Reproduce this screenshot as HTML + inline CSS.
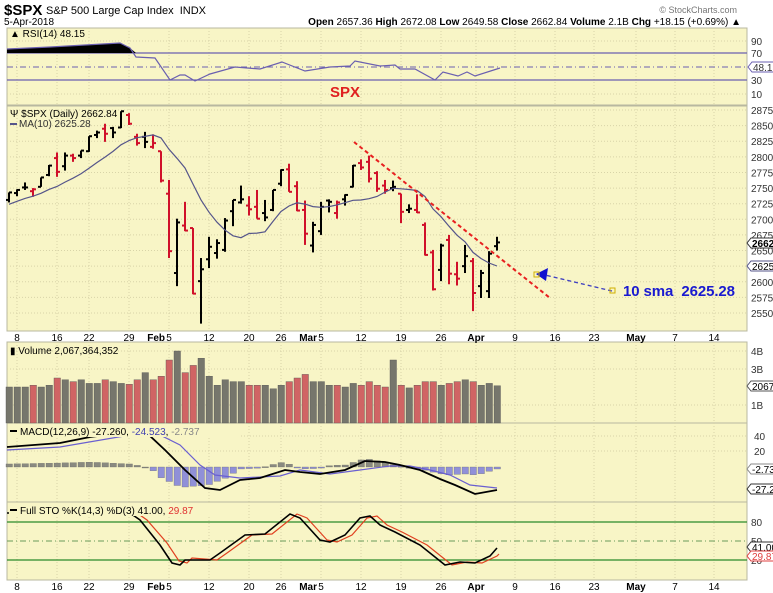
<!DOCTYPE html>
<html><head><meta charset="utf-8"><style>
body{margin:0;background:#fff;width:773px;height:593px;overflow:hidden;font-family:"Liberation Sans",sans-serif}
svg{display:block}
</style></head><body>
<svg id="c" width="773" height="593" xmlns="http://www.w3.org/2000/svg" font-family="Liberation Sans, sans-serif"></svg>
<script>
const S=document.getElementById('c');let h='';
const L=7,R=747,BG='#f8f5c6';
const d=[[2731,2743,2727,2743],[2742,2748,2737,2747],[2751,2759,2747,2751],[2745,2750,2736,2748],[2752,2767,2752,2767],[2771,2787,2769,2786],[2798,2807,2768,2776],[2785,2807,2778,2802],[2802,2805,2792,2798],[2802,2810,2798,2810],[2809,2833,2808,2833],[2835,2842,2830,2839],[2845,2853,2824,2837],[2846,2848,2830,2839],[2847,2873,2846,2873],[2867,2870,2851,2853],[2832,2837,2818,2822],[2832,2840,2814,2824],[2816,2836,2813,2822],[2809,2809,2759,2762],[2741,2763,2638,2649],[2614,2701,2593,2695],[2690,2728,2681,2682],[2686,2686,2580,2581],[2601,2638,2533,2620],[2636,2672,2622,2656],[2646,2668,2637,2662],[2651,2702,2648,2698],[2713,2731,2689,2731],[2727,2754,2725,2732],[2722,2737,2706,2716],[2720,2747,2701,2701],[2710,2731,2697,2703],[2715,2747,2713,2747],[2757,2780,2753,2779],[2780,2789,2744,2744],[2753,2761,2713,2714],[2715,2730,2659,2677],[2658,2696,2647,2691],[2681,2728,2675,2720],[2730,2732,2711,2728],[2710,2730,2701,2727],[2732,2740,2722,2739],[2752,2787,2751,2786],[2790,2796,2779,2783],[2792,2802,2759,2765],[2774,2777,2744,2749],[2754,2763,2741,2747],[2750,2762,2745,2752],[2741,2741,2694,2712],[2715,2724,2710,2717],[2715,2740,2710,2711],[2691,2695,2642,2643],[2647,2651,2586,2588],[2619,2661,2601,2658],[2667,2675,2596,2613],[2612,2632,2594,2605],[2625,2659,2614,2641],[2633,2638,2553,2582],[2593,2619,2574,2614],[2585,2649,2574,2645],[2657,2672,2650,2663]];
const vol=[2.0,2.0,2.0,2.1,2.0,2.1,2.5,2.4,2.3,2.4,2.2,2.2,2.4,2.3,2.2,2.15,2.4,2.8,2.4,2.6,3.5,4.0,2.8,3.2,3.6,2.6,2.1,2.4,2.3,2.3,2.1,2.1,2.1,1.9,2.1,2.3,2.5,2.7,2.3,2.3,2.1,2.1,2.0,2.2,2.1,2.3,2.1,2.0,3.5,2.1,1.95,2.1,2.3,2.3,2.1,2.2,2.3,2.4,2.3,2.1,2.2,2.07];
const X=i=>9+i*8, Y=p=>110+(2875-p)*0.6246;
const panes=[[28,105],[106,331],[342,423],[423,502],[502,580]];
const vx=[17,57,89,129,169,209,249,281,321,361,401,441,476,515,555,594,636,675,714];
const vl=['8','16','22','29','Feb 5','12','20','26','Mar 5','12','19','26','Apr','9','16','23','May','7','14'];
panes.forEach(([t,b])=>{h+=`<rect x="${L}" y="${t}" width="${R-L}" height="${b-t}" fill="${BG}" stroke="#b8b8a0" stroke-width="1"/>`;
 vx.forEach(x=>h+=`<line x1="${x}" y1="${t}" x2="${x}" y2="${b}" stroke="#d8d4a8" stroke-dasharray="1,2"/>`);});
for(let p=2550;p<=2875;p+=25){const y=Y(p);h+=`<line x1="${L}" y1="${y}" x2="${R}" y2="${y}" stroke="#d8d4a8" stroke-dasharray="1,2"/><text x="751" y="${y+4}" font-size="10" fill="#333">${p}</text>`;}
[[41,'90'],[94,'10']].forEach(([y,t])=>{h+=`<line x1="${L}" y1="${y}" x2="${R}" y2="${y}" stroke="#d8d4a8" stroke-dasharray="1,2"/><text x="751" y="${y+4}" font-size="10" fill="#333">${t}</text>`});
h+=`<line x1="${L}" y1="53" x2="${R}" y2="53" stroke="#6a5fb0" stroke-width="1.3"/><line x1="${L}" y1="80" x2="${R}" y2="80" stroke="#6a5fb0" stroke-width="1.3"/><line x1="${L}" y1="67" x2="${R}" y2="67" stroke="#6a5fb0" stroke-dasharray="6,3,1,3"/>`;
h+=`<text x="751" y="57" font-size="10" fill="#333">70</text><text x="751" y="84" font-size="10" fill="#333">30</text>`;
h+=`<polygon points="7,53 7,49 50,47 90,45 120,43 130,48 136,53" fill="#000"/>`;
h+=`<polyline fill="none" stroke="#6a5fb0" stroke-width="1.2" points="7,49 50,47 120,43 130,48 136,57 155,58 170,80 180,75 185,75 195,81 210,74 235,67 260,69 282,62 305,71 330,67 350,66 355,61 380,66 395,65 400,69 415,69 435,80 443,72 458,76 467,72 475,76 500,68"/>`;
h+=`<path d="M748,67 l4,-5 h22 v10 h-22z" fill="#fff" stroke="#6a5fb0"/><text x="753" y="71" font-size="10" fill="#333">48.15</text>`;
h+=`<text x="10" y="37" font-size="10" fill="#000">▲ RSI(14) 48.15</text><text x="330" y="97" font-size="15" font-weight="bold" fill="#e02020">SPX</text>`;
d.forEach((b,i)=>{const x=X(i);const c=(i>0&&b[3]<d[i-1][3])?'#d0102a':'#000';
 h+=`<line x1="${x}" y1="${Y(b[1])}" x2="${x}" y2="${Y(b[2])}" stroke="${c}" stroke-width="2"/><line x1="${x-3}" y1="${Y(b[0])}" x2="${x}" y2="${Y(b[0])}" stroke="${c}" stroke-width="2"/><line x1="${x}" y1="${Y(b[3])}" x2="${x+3}" y2="${Y(b[3])}" stroke="${c}" stroke-width="2"/>`;});
const pre=[2700,2705,2712,2720,2725,2728,2732,2736,2740];
const cl=pre.concat(d.map(b=>b[3]));
let mp=[];for(let i=0;i<d.length;i++){let s=0;for(let k=0;k<10;k++)s+=cl[i+9-k];mp.push(X(i)+','+Y(s/10).toFixed(1));}
h+=`<polyline fill="none" stroke="#55558a" stroke-width="1.2" points="${mp.join(' ')}"/>`;
h+=`<text x="10" y="117" font-size="10">Ψ $SPX (Daily) 2662.84</text><line x1="10" y1="124" x2="17" y2="124" stroke="#55558a" stroke-width="2"/><text x="19" y="127" font-size="10" fill="#333">MA(10) 2625.28</text>`;
h+=`<path d="M747,243 l4,-5 h24 v10 h-24z" fill="#fff" stroke="#333"/><text x="752" y="247" font-size="10" font-weight="bold">2662.</text>`;
h+=`<path d="M747,266 l4,-5 h24 v10 h-24z" fill="#fff" stroke="#55558a"/><text x="752" y="270" font-size="10">2625</text>`;
h+=`<line x1="354" y1="142" x2="550" y2="298" stroke="#e82020" stroke-width="2" stroke-dasharray="4,3"/>`;
h+=`<line x1="612" y1="291" x2="545" y2="275" stroke="#4040c0" stroke-width="1.3" stroke-dasharray="4,3"/><polygon points="536,274 548,268 546,281" fill="#1010d0"/>`;
h+=`<rect x="534" y="272" width="5" height="5" fill="none" stroke="#d0b000"/><rect x="610" y="288" width="5" height="5" fill="none" stroke="#d0b000"/>`;
h+=`<text x="623" y="296" font-size="15" font-weight="bold" fill="#1a1ad0" textLength="112">10 sma&#160;&#160;2625.28</text>`;
const dl=(y)=>vx.forEach((x,i)=>{const t=vl[i];const bold=/[A-Za-z]/.test(t);if(t.includes(' ')){const p=t.split(' ');h+=`<text x="${x-4}" y="${y}" font-size="10" font-weight="bold" text-anchor="end">${p[0]}</text><text x="${x}" y="${y}" font-size="10" text-anchor="middle">${p[1]}</text>`;}else h+=`<text x="${x}" y="${y}" font-size="10" text-anchor="middle" font-weight="${bold?'bold':'normal'}">${t}</text>`;});
dl(341);dl(590);
[[351,'4B'],[369,'3B'],[405,'1B']].forEach(([y,t])=>h+=`<line x1="${L}" y1="${y}" x2="${R}" y2="${y}" stroke="#d8d4a8" stroke-dasharray="1,2"/><text x="751" y="${y+4}" font-size="10" fill="#333">${t}</text>`);
vol.forEach((v,i)=>{const x=X(i);const c=(i>0&&d[i][3]<d[i-1][3])?'#d06464':'#76766c';h+=`<rect x="${x-3}" y="${423-v*18}" width="6.5" height="${v*18}" fill="${c}" stroke="#555" stroke-width="0.4"/>`;});
h+=`<text x="10" y="354" font-size="10">▮ Volume 2,067,364,352</text>`;
h+=`<path d="M747,386 l4,-5 h24 v10 h-24z" fill="#fff" stroke="#555"/><text x="752" y="390" font-size="10">2067</text>`;
[[436,'40'],[451,'20']].forEach(([y,t])=>h+=`<line x1="${L}" y1="${y}" x2="${R}" y2="${y}" stroke="#d8d4a8" stroke-dasharray="1,2"/><text x="754" y="${y+4}" font-size="10" fill="#333">${t}</text>`);
const mc=[[7,447],[60,443],[90,437],[130,432],[150,436],[165,450],[185,470],[205,488],[220,490],[240,480],[260,478],[285,470],[300,472],[320,474],[345,470],[365,461],[385,462],[400,465],[420,470],[440,479],[455,485],[475,494],[497,490]];
const sg=[[7,450],[60,447],[130,435],[160,435],[180,445],[200,465],[215,475],[240,478],[280,476],[300,470],[330,474],[360,470],[390,466],[410,466],[430,470],[450,475],[470,485],[497,488]];
const it=(a,x)=>{for(let k=0;k<a.length-1;k++){if(x<=a[k+1][0]){const t=(x-a[k][0])/(a[k+1][0]-a[k][0]);return a[k][1]+t*(a[k+1][1]-a[k][1]);}}return a[a.length-1][1];};
d.forEach((b,i)=>{const x=X(i);const hv=it(sg,x)-it(mc,x);const y0=467,y1=y0-hv;h+=`<rect x="${x-3}" y="${Math.min(y0,y1)}" width="6.5" height="${Math.max(1,Math.abs(hv))}" fill="${hv>=0?'#8a8a80':'#9090d8'}" stroke="#666" stroke-width="0.3"/>`;});
h+=`<polyline fill="none" stroke="#6a5fd0" stroke-width="1.2" points="${sg.map(p=>p.join(',')).join(' ')}"/>`;
h+=`<polyline fill="none" stroke="#000" stroke-width="1.8" points="${mc.map(p=>p.join(',')).join(' ')}"/>`;
h+=`<rect x="9" y="426" width="232" height="11" fill="${BG}"/><line x1="10" y1="431" x2="17" y2="431" stroke="#000" stroke-width="2"/><text x="20" y="435" font-size="10">MACD(12,26,9) -27.260, <tspan fill="#4040b0">-24.523</tspan>, <tspan fill="#888">-2.737</tspan></text>`;
h+=`<path d="M747,469 l4,-5 h24 v10 h-24z" fill="#fff" stroke="#888"/><text x="752" y="473" font-size="10">-2.73</text>`;
h+=`<path d="M747,489 l4,-5 h24 v10 h-24z" fill="#fff" stroke="#333"/><text x="752" y="493" font-size="10">-27.2</text>`;
h+=`<line x1="${L}" y1="522" x2="${R}" y2="522" stroke="#2a8a2a" stroke-width="1.2"/><line x1="${L}" y1="560" x2="${R}" y2="560" stroke="#2a8a2a" stroke-width="1.2"/><line x1="${L}" y1="541" x2="${R}" y2="541" stroke="#6a9a5a" stroke-dasharray="6,3,1,3"/>`;
h+=`<text x="751" y="526" font-size="10" fill="#333">80</text><text x="751" y="545" font-size="10" fill="#333">50</text><text x="751" y="564" font-size="10" fill="#333">20</text>`;
const k=[[7,513],[130,513],[140,520],[160,545],[172,563],[180,565],[185,560],[210,560],[220,553],[245,535],[265,534],[290,514],[300,518],[320,540],[330,542],[345,535],[360,518],[370,516],[380,525],[395,532],[420,545],[435,557],[445,565],[460,562],[475,563],[490,556],[497,548]];
h+=`<polyline fill="none" stroke="#e04020" stroke-width="1.2" points="${k.map(p=>(p[0]+7)+','+(p[0]>150&&p[0]<200?p[1]-2:p[1])).filter((_,i)=>k[i][0]+7<=499).join(' ')} 499,554"/>`;
h+=`<polyline fill="none" stroke="#000" stroke-width="1.6" points="${k.map(p=>p.join(',')).join(' ')}"/>`;
h+=`<rect x="9" y="505" width="222" height="11" fill="${BG}"/><line x1="10" y1="510" x2="17" y2="510" stroke="#000" stroke-width="2"/><text x="20" y="514" font-size="10">Full STO %K(14,3) %D(3) 41.00, <tspan fill="#e03030">29.87</tspan></text>`;
h+=`<path d="M747,547 l4,-5 h24 v10 h-24z" fill="#fff" stroke="#333"/><text x="752" y="551" font-size="10">41.00</text>`;
h+=`<path d="M747,556 l4,-5 h24 v10 h-24z" fill="#fff" stroke="#e04040"/><text x="752" y="560" font-size="10" fill="#e04040">29.87</text>`;
h+=`<text x="4" y="15" font-size="15" font-weight="bold">$SPX</text><text x="46" y="14" font-size="11">S&amp;P 500 Large Cap Index&#160;&#160;INDX</text><text x="4" y="25" font-size="10">5-Apr-2018</text>`;
h+=`<text x="737" y="13" font-size="9" fill="#777" text-anchor="end">© StockCharts.com</text>`;
h+=`<text x="741" y="25" font-size="10" text-anchor="end"><tspan font-weight="bold">Open</tspan> 2657.36 <tspan font-weight="bold">High</tspan> 2672.08 <tspan font-weight="bold">Low</tspan> 2649.58 <tspan font-weight="bold">Close</tspan> 2662.84 <tspan font-weight="bold">Volume</tspan> 2.1B <tspan font-weight="bold">Chg</tspan> +18.15 (+0.69%) ▲</text>`;
S.innerHTML=h;
</script>
</body></html>
